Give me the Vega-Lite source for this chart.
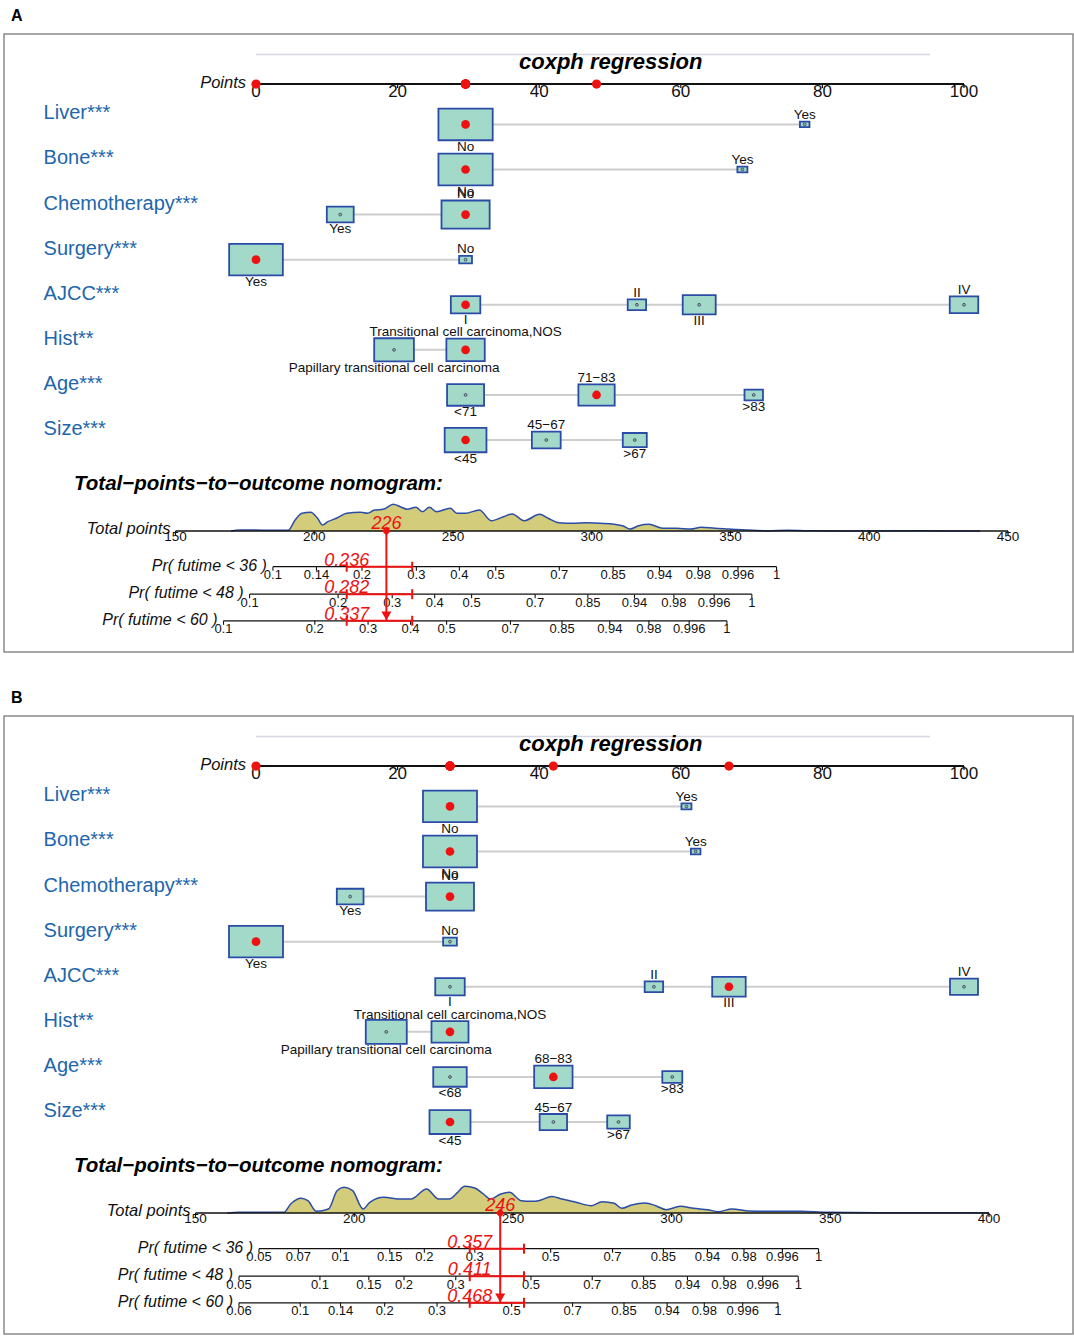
{
"$schema":"https://vega.github.io/schema/vega-lite/v6.json",
"background":"white",
"padding":{"left":3,"top":7,"right":0,"bottom":0},
"spacing":36,
"config":{
 "font":"Liberation Sans",
 "view":{"stroke":"#8a8a8a","strokeWidth":1.5},
 "text":{"font":"Liberation Sans","color":"#111111"},
 "title":{"anchor":"start","frame":"group","fontSize":16,"fontWeight":"bold","color":"#000000","offset":12,"dx":7,"dy":2}
},
"datasets":{
 "vars":[{"name":"Liver***","row":1},{"name":"Bone***","row":2},{"name":"Chemotherapy***","row":3},{"name":"Surgery***","row":4},{"name":"AJCC***","row":5},{"name":"Hist**","row":6},{"name":"Age***","row":7},{"name":"Size***","row":8}],
 "ptTicks":[{"p":0},{"p":20},{"p":40},{"p":60},{"p":80},{"p":100}],
 "lvA":[
  {"var":"Liver","row":1,"level":"No","pts":29.6,"prop":0.965,"sel":true},
  {"var":"Liver","row":1,"level":"Yes","pts":77.5,"prop":0.03,"sel":false},
  {"var":"Bone","row":2,"level":"No","pts":29.6,"prop":0.965,"sel":true},
  {"var":"Bone","row":2,"level":"Yes","pts":68.7,"prop":0.033,"sel":false},
  {"var":"Chemotherapy","row":3,"level":"No","pts":29.6,"prop":0.76,"sel":true},
  {"var":"Chemotherapy","row":3,"level":"Yes","pts":11.9,"prop":0.237,"sel":false},
  {"var":"Surgery","row":4,"level":"No","pts":29.6,"prop":0.054,"sel":false},
  {"var":"Surgery","row":4,"level":"Yes","pts":0,"prop":0.945,"sel":true},
  {"var":"AJCC","row":5,"level":"I","pts":29.6,"prop":0.285,"sel":true},
  {"var":"AJCC","row":5,"level":"II","pts":53.8,"prop":0.111,"sel":false},
  {"var":"AJCC","row":5,"level":"III","pts":62.6,"prop":0.357,"sel":false},
  {"var":"AJCC","row":5,"level":"IV","pts":100,"prop":0.266,"sel":false},
  {"var":"Hist","row":6,"level":"Papillary transitional cell carcinoma","pts":19.5,"prop":0.517,"sel":false},
  {"var":"Hist","row":6,"level":"Transitional cell carcinoma,NOS","pts":29.6,"prop":0.483,"sel":true},
  {"var":"Age","row":7,"level":"<71","pts":29.6,"prop":0.449,"sel":false},
  {"var":"Age","row":7,"level":"71−83","pts":48.1,"prop":0.432,"sel":true},
  {"var":"Age","row":7,"level":">83","pts":70.3,"prop":0.112,"sel":false},
  {"var":"Size","row":8,"level":"<45","pts":29.6,"prop":0.573,"sel":true},
  {"var":"Size","row":8,"level":"45−67","pts":41.0,"prop":0.272,"sel":false},
  {"var":"Size","row":8,"level":">67","pts":53.5,"prop":0.189,"sel":false}
 ],
 "lvB":[
  {"var":"Liver","row":1,"level":"No","pts":27.4,"prop":0.956,"sel":true},
  {"var":"Liver","row":1,"level":"Yes","pts":60.8,"prop":0.033,"sel":false},
  {"var":"Bone","row":2,"level":"No","pts":27.4,"prop":0.956,"sel":true},
  {"var":"Bone","row":2,"level":"Yes","pts":62.1,"prop":0.03,"sel":false},
  {"var":"Chemotherapy","row":3,"level":"No","pts":27.4,"prop":0.755,"sel":true},
  {"var":"Chemotherapy","row":3,"level":"Yes","pts":13.3,"prop":0.234,"sel":false},
  {"var":"Surgery","row":4,"level":"No","pts":27.4,"prop":0.062,"sel":false},
  {"var":"Surgery","row":4,"level":"Yes","pts":0,"prop":0.956,"sel":true},
  {"var":"AJCC","row":5,"level":"I","pts":27.4,"prop":0.285,"sel":false},
  {"var":"AJCC","row":5,"level":"II","pts":56.2,"prop":0.112,"sel":false},
  {"var":"AJCC","row":5,"level":"III","pts":66.8,"prop":0.368,"sel":true},
  {"var":"AJCC","row":5,"level":"IV","pts":100,"prop":0.257,"sel":false},
  {"var":"Hist","row":6,"level":"Papillary transitional cell carcinoma","pts":18.4,"prop":0.551,"sel":false},
  {"var":"Hist","row":6,"level":"Transitional cell carcinoma,NOS","pts":27.4,"prop":0.449,"sel":true},
  {"var":"Age","row":7,"level":"<68","pts":27.4,"prop":0.368,"sel":false},
  {"var":"Age","row":7,"level":"68−83","pts":42.0,"prop":0.483,"sel":true},
  {"var":"Age","row":7,"level":">83","pts":58.8,"prop":0.131,"sel":false},
  {"var":"Size","row":8,"level":"<45","pts":27.4,"prop":0.551,"sel":true},
  {"var":"Size","row":8,"level":"45−67","pts":42.0,"prop":0.246,"sel":false},
  {"var":"Size","row":8,"level":">67","pts":51.2,"prop":0.167,"sel":false}
 ],
 "densA":[
  {"tp":170,"d":0},{"tp":173.3,"d":1},{"tp":190.6,"d":0.7},{"tp":193.1,"d":11},{"tp":195.6,"d":17.7},{"tp":198.7,"d":18.7},{"tp":201.2,"d":12.7},{"tp":203.0,"d":6},{"tp":204.9,"d":9.3},{"tp":208.0,"d":12.7},{"tp":211.7,"d":17.7},{"tp":216.7,"d":18.7},{"tp":219.2,"d":17.7},{"tp":221.7,"d":21},{"tp":224.8,"d":21.7},{"tp":228.5,"d":26.7},{"tp":231.0,"d":24.3},{"tp":233.5,"d":21.7},{"tp":236.6,"d":23.7},{"tp":239.0,"d":19.3},{"tp":241.5,"d":23.7},{"tp":244.0,"d":19.3},{"tp":249.0,"d":22.7},{"tp":251.4,"d":17.7},{"tp":254.5,"d":17.7},{"tp":259.5,"d":21},{"tp":263.8,"d":10.3},{"tp":268.2,"d":14.3},{"tp":271.3,"d":17},{"tp":275.7,"d":10.3},{"tp":281.2,"d":16.7},{"tp":284.3,"d":12.7},{"tp":288.1,"d":8.3},{"tp":293.1,"d":7.7},{"tp":298.1,"d":8.3},{"tp":303.1,"d":7.7},{"tp":308.1,"d":6.7},{"tp":311.3,"d":5},{"tp":313.8,"d":2},{"tp":316.9,"d":5.3},{"tp":320.6,"d":6.7},{"tp":325.6,"d":2.7},{"tp":330.6,"d":2.7},{"tp":335.6,"d":2},{"tp":339.4,"d":3.7},{"tp":344.4,"d":2.7},{"tp":349.4,"d":2},{"tp":355.6,"d":1},{"tp":363.2,"d":0.3},{"tp":370.6,"d":0.7},{"tp":378.1,"d":0.3},{"tp":390.6,"d":0.1},{"tp":415.7,"d":0.3},{"tp":428.2,"d":0.1},{"tp":440,"d":0}
 ],
 "densB":[
  {"tp":160,"d":0},{"tp":163.7,"d":0.7},{"tp":177.8,"d":0.7},{"tp":180.0,"d":9},{"tp":183.2,"d":14.7},{"tp":185.4,"d":12.3},{"tp":188.1,"d":1.7},{"tp":191.9,"d":4},{"tp":194.6,"d":22.3},{"tp":196.8,"d":25.7},{"tp":199.5,"d":22.3},{"tp":202.8,"d":4},{"tp":204.9,"d":10.7},{"tp":209.3,"d":15.7},{"tp":214.7,"d":14},{"tp":217.9,"d":14},{"tp":222.8,"d":24},{"tp":226.6,"d":14},{"tp":229.9,"d":14},{"tp":232.6,"d":20.7},{"tp":234.8,"d":26.7},{"tp":238.0,"d":25},{"tp":240.7,"d":19},{"tp":242.9,"d":14},{"tp":246.2,"d":19},{"tp":248.9,"d":20.7},{"tp":252.6,"d":12.3},{"tp":255.7,"d":11.7},{"tp":258.1,"d":12.3},{"tp":262.3,"d":16.5},{"tp":265.5,"d":14},{"tp":269.9,"d":10.7},{"tp":274.8,"d":7.3},{"tp":278.1,"d":11.3},{"tp":281.9,"d":9.7},{"tp":284.3,"d":4.7},{"tp":287.4,"d":8},{"tp":291.7,"d":10},{"tp":295.0,"d":7.3},{"tp":298.3,"d":3.3},{"tp":302.7,"d":6.7},{"tp":307.0,"d":4.7},{"tp":311.4,"d":3.3},{"tp":314.7,"d":1.3},{"tp":319.0,"d":4},{"tp":324.5,"d":2},{"tp":332.2,"d":1.7},{"tp":340.9,"d":1.7},{"tp":348.6,"d":0.7},{"tp":365.0,"d":0.3},{"tp":386.8,"d":0.3},{"tp":400,"d":0}
 ],
 "tpTicksA":[{"t":150},{"t":200},{"t":250},{"t":300},{"t":350},{"t":400},{"t":450}],
 "tpTicksB":[{"t":150},{"t":200},{"t":250},{"t":300},{"t":350},{"t":400}],
 "probA":[
  {"ax":"36","row":10.809,"p":"0.1","tp":185.1},{"ax":"36","row":10.809,"p":"0.14","tp":200.8},{"ax":"36","row":10.809,"p":"0.2","tp":217.2},{"ax":"36","row":10.809,"p":"0.3","tp":236.8},{"ax":"36","row":10.809,"p":"0.4","tp":252.3},{"ax":"36","row":10.809,"p":"0.5","tp":265.4},{"ax":"36","row":10.809,"p":"0.7","tp":288.3},{"ax":"36","row":10.809,"p":"0.85","tp":307.7},{"ax":"36","row":10.809,"p":"0.94","tp":324.4},{"ax":"36","row":10.809,"p":"0.98","tp":338.4},{"ax":"36","row":10.809,"p":"0.996","tp":352.7},{"ax":"36","row":10.809,"p":"1","tp":366.6},
  {"ax":"48","row":11.419,"p":"0.1","tp":176.7},{"ax":"48","row":11.419,"p":"0.2","tp":208.6},{"ax":"48","row":11.419,"p":"0.3","tp":228.1},{"ax":"48","row":11.419,"p":"0.4","tp":243.4},{"ax":"48","row":11.419,"p":"0.5","tp":256.7},{"ax":"48","row":11.419,"p":"0.7","tp":279.6},{"ax":"48","row":11.419,"p":"0.85","tp":298.6},{"ax":"48","row":11.419,"p":"0.94","tp":315.4},{"ax":"48","row":11.419,"p":"0.98","tp":329.6},{"ax":"48","row":11.419,"p":"0.996","tp":344.1},{"ax":"48","row":11.419,"p":"1","tp":357.7},
  {"ax":"60","row":12.009,"p":"0.1","tp":167.3},{"ax":"60","row":12.009,"p":"0.2","tp":200.2},{"ax":"60","row":12.009,"p":"0.3","tp":219.4},{"ax":"60","row":12.009,"p":"0.4","tp":234.7},{"ax":"60","row":12.009,"p":"0.5","tp":247.7},{"ax":"60","row":12.009,"p":"0.7","tp":270.7},{"ax":"60","row":12.009,"p":"0.85","tp":289.3},{"ax":"60","row":12.009,"p":"0.94","tp":306.5},{"ax":"60","row":12.009,"p":"0.98","tp":320.6},{"ax":"60","row":12.009,"p":"0.996","tp":335.1},{"ax":"60","row":12.009,"p":"1","tp":348.7}
 ],
 "probB":[
  {"ax":"36","row":10.809,"p":"0.05","tp":170.0},{"ax":"36","row":10.809,"p":"0.07","tp":182.4},{"ax":"36","row":10.809,"p":"0.1","tp":195.7},{"ax":"36","row":10.809,"p":"0.15","tp":211.2},{"ax":"36","row":10.809,"p":"0.2","tp":222.1},{"ax":"36","row":10.809,"p":"0.3","tp":238.0},{"ax":"36","row":10.809,"p":"0.5","tp":261.9},{"ax":"36","row":10.809,"p":"0.7","tp":281.4},{"ax":"36","row":10.809,"p":"0.85","tp":297.4},{"ax":"36","row":10.809,"p":"0.94","tp":311.3},{"ax":"36","row":10.809,"p":"0.98","tp":322.8},{"ax":"36","row":10.809,"p":"0.996","tp":334.9},{"ax":"36","row":10.809,"p":"1","tp":346.3},
  {"ax":"48","row":11.419,"p":"0.05","tp":163.7},{"ax":"48","row":11.419,"p":"0.1","tp":189.2},{"ax":"48","row":11.419,"p":"0.15","tp":204.6},{"ax":"48","row":11.419,"p":"0.2","tp":215.7},{"ax":"48","row":11.419,"p":"0.3","tp":232.0},{"ax":"48","row":11.419,"p":"0.5","tp":255.7},{"ax":"48","row":11.419,"p":"0.7","tp":275.0},{"ax":"48","row":11.419,"p":"0.85","tp":291.2},{"ax":"48","row":11.419,"p":"0.94","tp":305.0},{"ax":"48","row":11.419,"p":"0.98","tp":316.5},{"ax":"48","row":11.419,"p":"0.996","tp":328.7},{"ax":"48","row":11.419,"p":"1","tp":339.9},
  {"ax":"60","row":12.009,"p":"0.06","tp":163.7},{"ax":"60","row":12.009,"p":"0.1","tp":183.0},{"ax":"60","row":12.009,"p":"0.14","tp":195.7},{"ax":"60","row":12.009,"p":"0.2","tp":209.6},{"ax":"60","row":12.009,"p":"0.3","tp":226.1},{"ax":"60","row":12.009,"p":"0.5","tp":249.6},{"ax":"60","row":12.009,"p":"0.7","tp":268.8},{"ax":"60","row":12.009,"p":"0.85","tp":285.0},{"ax":"60","row":12.009,"p":"0.94","tp":298.6},{"ax":"60","row":12.009,"p":"0.98","tp":310.3},{"ax":"60","row":12.009,"p":"0.996","tp":322.4},{"ax":"60","row":12.009,"p":"1","tp":333.5}
 ],
 "ciA":[{"row":10.809,"prob":"0.236","lo":211.7,"hi":235.3},{"row":11.419,"prob":"0.282","lo":211.7,"hi":235.3},{"row":12.009,"prob":"0.337","lo":211.7,"hi":235.3}],
 "ciB":[{"row":10.809,"prob":"0.357","lo":236.4,"hi":253.5},{"row":11.419,"prob":"0.411","lo":236.4,"hi":253.5},{"row":12.009,"prob":"0.468","lo":236.4,"hi":253.5}],
 "totA":[{"total":226}],
 "totB":[{"total":246}]
},
"vconcat":[
{
 "title":{"text":"A"},
 "width":1069,"height":618,
 "resolve":{"scale":{"x":"independent","y":"independent","size":"independent"}},
 "layer":[
  {"data":{"values":[{}]},"mark":{"type":"rule","color":"#D6D6E2","strokeWidth":1.5},"encoding":{"x":{"datum":0,"type":"quantitative","scale":{"domain":[0,100],"range":[252,960],"nice":false,"zero":false},"axis":null},"x2":{"datum":95.2},"y":{"datum":-0.55,"type":"quantitative","scale":{"domain":[-1.005,12.701],"range":[0,618],"nice":false,"zero":false},"axis":null}}},
  {"data":{"values":[{}]},"mark":{"type":"text","text":"coxph regression","fontSize":22,"fontWeight":"bold","fontStyle":"italic","align":"center","baseline":"alphabetic","color":"#000000"},"encoding":{"x":{"datum":50.1,"type":"quantitative","scale":{"domain":[0,100],"range":[252,960],"nice":false,"zero":false},"axis":null},"y":{"datum":-0.229,"type":"quantitative","scale":{"domain":[-1.005,12.701],"range":[0,618],"nice":false,"zero":false},"axis":null}}},
  {"data":{"name":"lvA"},"mark":{"type":"line","color":"#CDCDCD","strokeWidth":2},"encoding":{"x":{"field":"pts","type":"quantitative","scale":{"domain":[0,100],"range":[252,960],"nice":false,"zero":false},"axis":null},"y":{"field":"row","type":"quantitative","scale":{"domain":[-1.005,12.701],"range":[0,618],"nice":false,"zero":false},"axis":null},"detail":{"field":"var"},"order":{"field":"pts"}}},
  {"data":{"name":"lvA"},"mark":{"type":"point","shape":"M-1,-0.585H1V0.585H-1Z","filled":true,"fill":"#A2D9C9","stroke":"#2B4CA6","strokeWidth":1.8,"opacity":1,"fillOpacity":1},"encoding":{"x":{"field":"pts","type":"quantitative","scale":{"domain":[0,100],"range":[252,960],"nice":false,"zero":false},"axis":null},"y":{"field":"row","type":"quantitative","scale":{"domain":[-1.005,12.701],"range":[0,618],"nice":false,"zero":false},"axis":null},"size":{"field":"prop","type":"quantitative","scale":{"domain":[0,1],"range":[0,3050],"zero":true},"legend":null}}},
  {"data":{"name":"lvA"},"transform":[{"filter":"!datum.sel"}],"mark":{"type":"point","shape":"circle","filled":true,"fill":"#8FB8AC","stroke":"#3A3A5A","strokeWidth":0.8,"size":8,"opacity":1},"encoding":{"x":{"field":"pts","type":"quantitative","scale":{"domain":[0,100],"range":[252,960],"nice":false,"zero":false},"axis":null},"y":{"field":"row","type":"quantitative","scale":{"domain":[-1.005,12.701],"range":[0,618],"nice":false,"zero":false},"axis":null}}},
  {"data":{"name":"lvA"},"transform":[{"filter":"datum.sel"}],"mark":{"type":"point","shape":"circle","filled":true,"color":"#EE1111","size":75,"opacity":1},"encoding":{"x":{"field":"pts","type":"quantitative","scale":{"domain":[0,100],"range":[252,960],"nice":false,"zero":false},"axis":null},"y":{"field":"row","type":"quantitative","scale":{"domain":[-1.005,12.701],"range":[0,618],"nice":false,"zero":false},"axis":null}}},
  {"data":{"name":"lvA"},"transform":[{"window":[{"op":"row_number","as":"rk"}],"sort":[{"field":"pts","order":"ascending"}],"groupby":["var"]},{"calculate":"datum.row + (datum.rk % 2 == 1 ? 1 : -1) * (0.2925 * sqrt(3050 * datum.prop) + 6.5) / 45.09","as":"ly"}],"mark":{"type":"text","fontSize":13.5,"align":"center","baseline":"middle","color":"#111111"},"encoding":{"x":{"field":"pts","type":"quantitative","scale":{"domain":[0,100],"range":[252,960],"nice":false,"zero":false},"axis":null},"y":{"field":"ly","type":"quantitative","scale":{"domain":[-1.005,12.701],"range":[0,618],"nice":false,"zero":false},"axis":null},"text":{"field":"level"}}},
  {"data":{"name":"vars"},"mark":{"type":"text","fontSize":20,"align":"left","baseline":"alphabetic","dy":-5,"color":"#2166AC"},"encoding":{"x":{"datum":-30,"type":"quantitative","scale":{"domain":[0,100],"range":[252,960],"nice":false,"zero":false},"axis":null},"y":{"field":"row","type":"quantitative","scale":{"domain":[-1.005,12.701],"range":[0,618],"nice":false,"zero":false},"axis":null},"text":{"field":"name"}}},
  {"data":{"values":[{}]},"mark":{"type":"rule","color":"#111111","strokeWidth":2},"encoding":{"x":{"datum":0,"type":"quantitative","scale":{"domain":[0,100],"range":[252,960],"nice":false,"zero":false},"axis":null},"x2":{"datum":100},"y":{"datum":0.106,"type":"quantitative","scale":{"domain":[-1.005,12.701],"range":[0,618],"nice":false,"zero":false},"axis":null}}},
  {"data":{"name":"ptTicks"},"mark":{"type":"point","shape":"M0,0V1","filled":false,"color":"#111111","strokeWidth":1.2,"size":64,"opacity":1},"encoding":{"x":{"field":"p","type":"quantitative","scale":{"domain":[0,100],"range":[252,960],"nice":false,"zero":false},"axis":null},"y":{"datum":0.106,"type":"quantitative","scale":{"domain":[-1.005,12.701],"range":[0,618],"nice":false,"zero":false},"axis":null}}},
  {"data":{"name":"ptTicks"},"mark":{"type":"text","fontSize":17,"align":"center","baseline":"middle","dy":8,"color":"#111111"},"encoding":{"x":{"field":"p","type":"quantitative","scale":{"domain":[0,100],"range":[252,960],"nice":false,"zero":false},"axis":null},"y":{"datum":0.106,"type":"quantitative","scale":{"domain":[-1.005,12.701],"range":[0,618],"nice":false,"zero":false},"axis":null},"text":{"field":"p"}}},
  {"data":{"values":[{}]},"mark":{"type":"text","text":"Points","fontSize":16.5,"fontStyle":"italic","align":"right","baseline":"middle","dx":-10,"dy":-1,"color":"#111111"},"encoding":{"x":{"datum":0,"type":"quantitative","scale":{"domain":[0,100],"range":[252,960],"nice":false,"zero":false},"axis":null},"y":{"datum":0.106,"type":"quantitative","scale":{"domain":[-1.005,12.701],"range":[0,618],"nice":false,"zero":false},"axis":null}}},
  {"data":{"name":"lvA"},"transform":[{"filter":"datum.sel"}],"mark":{"type":"point","shape":"circle","filled":true,"color":"#EE1111","size":85,"opacity":1},"encoding":{"x":{"field":"pts","type":"quantitative","scale":{"domain":[0,100],"range":[252,960],"nice":false,"zero":false},"axis":null},"y":{"datum":0.106,"type":"quantitative","scale":{"domain":[-1.005,12.701],"range":[0,618],"nice":false,"zero":false},"axis":null}}},
  {"data":{"values":[{}]},"mark":{"type":"text","text":"Total−points−to−outcome nomogram:","fontSize":20.5,"fontWeight":"bold","fontStyle":"italic","align":"left","baseline":"alphabetic","color":"#000000"},"encoding":{"x":{"datum":-25.7,"type":"quantitative","scale":{"domain":[0,100],"range":[252,960],"nice":false,"zero":false},"axis":null},"y":{"datum":9.108,"type":"quantitative","scale":{"domain":[-1.005,12.701],"range":[0,618],"nice":false,"zero":false},"axis":null}}},
  {"data":{"name":"densA"},"mark":{"type":"area","interpolate":"monotone","color":"#D3CD7B","opacity":1,"line":{"color":"#2B4CA6","strokeWidth":1.5}},"encoding":{"x":{"field":"tp","type":"quantitative","scale":{"domain":[150,450],"range":[171.5,1004],"nice":false,"zero":false},"axis":null},"y":{"field":"d","type":"quantitative","scale":{"domain":[0,30],"range":[497,467],"nice":false,"zero":false},"axis":null}}},
  {"data":{"values":[{}]},"mark":{"type":"rule","color":"#111111","strokeWidth":1.5},"encoding":{"x":{"datum":150,"type":"quantitative","scale":{"domain":[150,450],"range":[171.5,1004],"nice":false,"zero":false},"axis":null},"x2":{"datum":450},"y":{"datum":10.017,"type":"quantitative","scale":{"domain":[-1.005,12.701],"range":[0,618],"nice":false,"zero":false},"axis":null}}},
  {"data":{"name":"tpTicksA"},"mark":{"type":"point","shape":"M0,0V1","filled":false,"color":"#111111","strokeWidth":1.2,"size":64,"opacity":1},"encoding":{"x":{"field":"t","type":"quantitative","scale":{"domain":[150,450],"range":[171.5,1004],"nice":false,"zero":false},"axis":null},"y":{"datum":10.017,"type":"quantitative","scale":{"domain":[-1.005,12.701],"range":[0,618],"nice":false,"zero":false},"axis":null}}},
  {"data":{"name":"tpTicksA"},"mark":{"type":"text","fontSize":13.5,"align":"center","baseline":"middle","dy":6.5,"color":"#111111"},"encoding":{"x":{"field":"t","type":"quantitative","scale":{"domain":[150,450],"range":[171.5,1004],"nice":false,"zero":false},"axis":null},"y":{"datum":10.017,"type":"quantitative","scale":{"domain":[-1.005,12.701],"range":[0,618],"nice":false,"zero":false},"axis":null},"text":{"field":"t"}}},
  {"data":{"values":[{}]},"mark":{"type":"text","text":"Total points","fontSize":16.5,"fontStyle":"italic","align":"right","baseline":"middle","dx":-5,"dy":-2,"color":"#111111"},"encoding":{"x":{"datum":150,"type":"quantitative","scale":{"domain":[150,450],"range":[171.5,1004],"nice":false,"zero":false},"axis":null},"y":{"datum":10.017,"type":"quantitative","scale":{"domain":[-1.005,12.701],"range":[0,618],"nice":false,"zero":false},"axis":null}}},
  {"data":{"name":"probA"},"mark":{"type":"rule","color":"#111111","strokeWidth":1.2},"encoding":{"x":{"aggregate":"min","field":"tp","type":"quantitative","scale":{"domain":[150,450],"range":[171.5,1004],"nice":false,"zero":false},"axis":null},"x2":{"aggregate":"max","field":"tp"},"y":{"field":"row","type":"quantitative","scale":{"domain":[-1.005,12.701],"range":[0,618],"nice":false,"zero":false},"axis":null}}},
  {"data":{"name":"probA"},"mark":{"type":"point","shape":"M0,0V1","filled":false,"color":"#111111","strokeWidth":1.1,"size":64,"opacity":1},"encoding":{"x":{"field":"tp","type":"quantitative","scale":{"domain":[150,450],"range":[171.5,1004],"nice":false,"zero":false},"axis":null},"y":{"field":"row","type":"quantitative","scale":{"domain":[-1.005,12.701],"range":[0,618],"nice":false,"zero":false},"axis":null}}},
  {"data":{"name":"probA"},"mark":{"type":"text","fontSize":13,"align":"center","baseline":"middle","dy":8.5,"color":"#111111"},"encoding":{"x":{"field":"tp","type":"quantitative","scale":{"domain":[150,450],"range":[171.5,1004],"nice":false,"zero":false},"axis":null},"y":{"field":"row","type":"quantitative","scale":{"domain":[-1.005,12.701],"range":[0,618],"nice":false,"zero":false},"axis":null},"text":{"field":"p"}}},
  {"data":{"name":"probA"},"transform":[{"aggregate":[{"op":"min","field":"tp","as":"tp0"}],"groupby":["ax","row"]},{"calculate":"'Pr( futime < ' + datum.ax + ' )'","as":"lab"}],"mark":{"type":"text","fontSize":16,"fontStyle":"italic","align":"right","baseline":"middle","dx":-6,"dy":-1,"color":"#111111"},"encoding":{"x":{"field":"tp0","type":"quantitative","scale":{"domain":[150,450],"range":[171.5,1004],"nice":false,"zero":false},"axis":null},"y":{"field":"row","type":"quantitative","scale":{"domain":[-1.005,12.701],"range":[0,618],"nice":false,"zero":false},"axis":null},"text":{"field":"lab"}}},
  {"data":{"name":"ciA"},"mark":{"type":"rule","color":"#EE1111","strokeWidth":2},"encoding":{"x":{"field":"lo","type":"quantitative","scale":{"domain":[150,450],"range":[171.5,1004],"nice":false,"zero":false},"axis":null},"x2":{"field":"hi"},"y":{"field":"row","type":"quantitative","scale":{"domain":[-1.005,12.701],"range":[0,618],"nice":false,"zero":false},"axis":null}}},
  {"data":{"name":"ciA"},"transform":[{"fold":["lo","hi"],"as":["k","v"]}],"mark":{"type":"point","shape":"M0,-1V1","filled":false,"color":"#EE1111","strokeWidth":2,"size":100,"opacity":1},"encoding":{"x":{"field":"v","type":"quantitative","scale":{"domain":[150,450],"range":[171.5,1004],"nice":false,"zero":false},"axis":null},"y":{"field":"row","type":"quantitative","scale":{"domain":[-1.005,12.701],"range":[0,618],"nice":false,"zero":false},"axis":null}}},
  {"data":{"name":"totA"},"mark":{"type":"rule","color":"#EE1111","strokeWidth":2},"encoding":{"x":{"field":"total","type":"quantitative","scale":{"domain":[150,450],"range":[171.5,1004],"nice":false,"zero":false},"axis":null},"y":{"datum":10.017,"type":"quantitative","scale":{"domain":[-1.005,12.701],"range":[0,618],"nice":false,"zero":false},"axis":null},"y2":{"datum":12.009}}},
  {"data":{"name":"totA"},"mark":{"type":"point","shape":"diamond","filled":true,"color":"#EE1111","size":80,"opacity":1},"encoding":{"x":{"field":"total","type":"quantitative","scale":{"domain":[150,450],"range":[171.5,1004],"nice":false,"zero":false},"axis":null},"y":{"datum":10.017,"type":"quantitative","scale":{"domain":[-1.005,12.701],"range":[0,618],"nice":false,"zero":false},"axis":null}}},
  {"data":{"name":"totA"},"mark":{"type":"point","shape":"triangle-down","filled":true,"color":"#EE1111","size":100,"opacity":1,"yOffset":-5},"encoding":{"x":{"field":"total","type":"quantitative","scale":{"domain":[150,450],"range":[171.5,1004],"nice":false,"zero":false},"axis":null},"y":{"datum":12.009,"type":"quantitative","scale":{"domain":[-1.005,12.701],"range":[0,618],"nice":false,"zero":false},"axis":null}}},
  {"data":{"name":"totA"},"mark":{"type":"text","fontSize":18,"fontStyle":"italic","color":"#EE1111","align":"center","baseline":"alphabetic","dy":-2},"encoding":{"x":{"field":"total","type":"quantitative","scale":{"domain":[150,450],"range":[171.5,1004],"nice":false,"zero":false},"axis":null},"y":{"datum":10.017,"type":"quantitative","scale":{"domain":[-1.005,12.701],"range":[0,618],"nice":false,"zero":false},"axis":null},"text":{"field":"total"}}},
  {"data":{"name":"ciA"},"mark":{"type":"text","fontSize":18,"fontStyle":"italic","color":"#EE1111","align":"center","baseline":"alphabetic","dy":-1},"encoding":{"x":{"field":"lo","type":"quantitative","scale":{"domain":[150,450],"range":[171.5,1004],"nice":false,"zero":false},"axis":null},"y":{"field":"row","type":"quantitative","scale":{"domain":[-1.005,12.701],"range":[0,618],"nice":false,"zero":false},"axis":null},"text":{"field":"prob"}}}
 ]
},
{
 "title":{"text":"B"},
 "width":1069,"height":618,
 "resolve":{"scale":{"x":"independent","y":"independent","size":"independent"}},
 "layer":[
  {"data":{"values":[{}]},"mark":{"type":"rule","color":"#D6D6E2","strokeWidth":1.5},"encoding":{"x":{"datum":0,"type":"quantitative","scale":{"domain":[0,100],"range":[252,960],"nice":false,"zero":false},"axis":null},"x2":{"datum":95.2},"y":{"datum":-0.55,"type":"quantitative","scale":{"domain":[-1.005,12.701],"range":[0,618],"nice":false,"zero":false},"axis":null}}},
  {"data":{"values":[{}]},"mark":{"type":"text","text":"coxph regression","fontSize":22,"fontWeight":"bold","fontStyle":"italic","align":"center","baseline":"alphabetic","color":"#000000"},"encoding":{"x":{"datum":50.1,"type":"quantitative","scale":{"domain":[0,100],"range":[252,960],"nice":false,"zero":false},"axis":null},"y":{"datum":-0.229,"type":"quantitative","scale":{"domain":[-1.005,12.701],"range":[0,618],"nice":false,"zero":false},"axis":null}}},
  {"data":{"name":"lvB"},"mark":{"type":"line","color":"#CDCDCD","strokeWidth":2},"encoding":{"x":{"field":"pts","type":"quantitative","scale":{"domain":[0,100],"range":[252,960],"nice":false,"zero":false},"axis":null},"y":{"field":"row","type":"quantitative","scale":{"domain":[-1.005,12.701],"range":[0,618],"nice":false,"zero":false},"axis":null},"detail":{"field":"var"},"order":{"field":"pts"}}},
  {"data":{"name":"lvB"},"mark":{"type":"point","shape":"M-1,-0.585H1V0.585H-1Z","filled":true,"fill":"#A2D9C9","stroke":"#2B4CA6","strokeWidth":1.8,"opacity":1,"fillOpacity":1},"encoding":{"x":{"field":"pts","type":"quantitative","scale":{"domain":[0,100],"range":[252,960],"nice":false,"zero":false},"axis":null},"y":{"field":"row","type":"quantitative","scale":{"domain":[-1.005,12.701],"range":[0,618],"nice":false,"zero":false},"axis":null},"size":{"field":"prop","type":"quantitative","scale":{"domain":[0,1],"range":[0,3050],"zero":true},"legend":null}}},
  {"data":{"name":"lvB"},"transform":[{"filter":"!datum.sel"}],"mark":{"type":"point","shape":"circle","filled":true,"fill":"#8FB8AC","stroke":"#3A3A5A","strokeWidth":0.8,"size":8,"opacity":1},"encoding":{"x":{"field":"pts","type":"quantitative","scale":{"domain":[0,100],"range":[252,960],"nice":false,"zero":false},"axis":null},"y":{"field":"row","type":"quantitative","scale":{"domain":[-1.005,12.701],"range":[0,618],"nice":false,"zero":false},"axis":null}}},
  {"data":{"name":"lvB"},"transform":[{"filter":"datum.sel"}],"mark":{"type":"point","shape":"circle","filled":true,"color":"#EE1111","size":75,"opacity":1},"encoding":{"x":{"field":"pts","type":"quantitative","scale":{"domain":[0,100],"range":[252,960],"nice":false,"zero":false},"axis":null},"y":{"field":"row","type":"quantitative","scale":{"domain":[-1.005,12.701],"range":[0,618],"nice":false,"zero":false},"axis":null}}},
  {"data":{"name":"lvB"},"transform":[{"window":[{"op":"row_number","as":"rk"}],"sort":[{"field":"pts","order":"ascending"}],"groupby":["var"]},{"calculate":"datum.row + (datum.rk % 2 == 1 ? 1 : -1) * (0.2925 * sqrt(3050 * datum.prop) + 6.5) / 45.09","as":"ly"}],"mark":{"type":"text","fontSize":13.5,"align":"center","baseline":"middle","color":"#111111"},"encoding":{"x":{"field":"pts","type":"quantitative","scale":{"domain":[0,100],"range":[252,960],"nice":false,"zero":false},"axis":null},"y":{"field":"ly","type":"quantitative","scale":{"domain":[-1.005,12.701],"range":[0,618],"nice":false,"zero":false},"axis":null},"text":{"field":"level"}}},
  {"data":{"name":"vars"},"mark":{"type":"text","fontSize":20,"align":"left","baseline":"alphabetic","dy":-5,"color":"#2166AC"},"encoding":{"x":{"datum":-30,"type":"quantitative","scale":{"domain":[0,100],"range":[252,960],"nice":false,"zero":false},"axis":null},"y":{"field":"row","type":"quantitative","scale":{"domain":[-1.005,12.701],"range":[0,618],"nice":false,"zero":false},"axis":null},"text":{"field":"name"}}},
  {"data":{"values":[{}]},"mark":{"type":"rule","color":"#111111","strokeWidth":2},"encoding":{"x":{"datum":0,"type":"quantitative","scale":{"domain":[0,100],"range":[252,960],"nice":false,"zero":false},"axis":null},"x2":{"datum":100},"y":{"datum":0.106,"type":"quantitative","scale":{"domain":[-1.005,12.701],"range":[0,618],"nice":false,"zero":false},"axis":null}}},
  {"data":{"name":"ptTicks"},"mark":{"type":"point","shape":"M0,0V1","filled":false,"color":"#111111","strokeWidth":1.2,"size":64,"opacity":1},"encoding":{"x":{"field":"p","type":"quantitative","scale":{"domain":[0,100],"range":[252,960],"nice":false,"zero":false},"axis":null},"y":{"datum":0.106,"type":"quantitative","scale":{"domain":[-1.005,12.701],"range":[0,618],"nice":false,"zero":false},"axis":null}}},
  {"data":{"name":"ptTicks"},"mark":{"type":"text","fontSize":17,"align":"center","baseline":"middle","dy":8,"color":"#111111"},"encoding":{"x":{"field":"p","type":"quantitative","scale":{"domain":[0,100],"range":[252,960],"nice":false,"zero":false},"axis":null},"y":{"datum":0.106,"type":"quantitative","scale":{"domain":[-1.005,12.701],"range":[0,618],"nice":false,"zero":false},"axis":null},"text":{"field":"p"}}},
  {"data":{"values":[{}]},"mark":{"type":"text","text":"Points","fontSize":16.5,"fontStyle":"italic","align":"right","baseline":"middle","dx":-10,"dy":-1,"color":"#111111"},"encoding":{"x":{"datum":0,"type":"quantitative","scale":{"domain":[0,100],"range":[252,960],"nice":false,"zero":false},"axis":null},"y":{"datum":0.106,"type":"quantitative","scale":{"domain":[-1.005,12.701],"range":[0,618],"nice":false,"zero":false},"axis":null}}},
  {"data":{"name":"lvB"},"transform":[{"filter":"datum.sel"}],"mark":{"type":"point","shape":"circle","filled":true,"color":"#EE1111","size":85,"opacity":1},"encoding":{"x":{"field":"pts","type":"quantitative","scale":{"domain":[0,100],"range":[252,960],"nice":false,"zero":false},"axis":null},"y":{"datum":0.106,"type":"quantitative","scale":{"domain":[-1.005,12.701],"range":[0,618],"nice":false,"zero":false},"axis":null}}},
  {"data":{"values":[{}]},"mark":{"type":"text","text":"Total−points−to−outcome nomogram:","fontSize":20.5,"fontWeight":"bold","fontStyle":"italic","align":"left","baseline":"alphabetic","color":"#000000"},"encoding":{"x":{"datum":-25.7,"type":"quantitative","scale":{"domain":[0,100],"range":[252,960],"nice":false,"zero":false},"axis":null},"y":{"datum":9.108,"type":"quantitative","scale":{"domain":[-1.005,12.701],"range":[0,618],"nice":false,"zero":false},"axis":null}}},
  {"data":{"name":"densB"},"mark":{"type":"area","interpolate":"monotone","color":"#D3CD7B","opacity":1,"line":{"color":"#2B4CA6","strokeWidth":1.5}},"encoding":{"x":{"field":"tp","type":"quantitative","scale":{"domain":[150,400],"range":[191.5,985],"nice":false,"zero":false},"axis":null},"y":{"field":"d","type":"quantitative","scale":{"domain":[0,30],"range":[497,467],"nice":false,"zero":false},"axis":null}}},
  {"data":{"values":[{}]},"mark":{"type":"rule","color":"#111111","strokeWidth":1.5},"encoding":{"x":{"datum":150,"type":"quantitative","scale":{"domain":[150,400],"range":[191.5,985],"nice":false,"zero":false},"axis":null},"x2":{"datum":400},"y":{"datum":10.017,"type":"quantitative","scale":{"domain":[-1.005,12.701],"range":[0,618],"nice":false,"zero":false},"axis":null}}},
  {"data":{"name":"tpTicksB"},"mark":{"type":"point","shape":"M0,0V1","filled":false,"color":"#111111","strokeWidth":1.2,"size":64,"opacity":1},"encoding":{"x":{"field":"t","type":"quantitative","scale":{"domain":[150,400],"range":[191.5,985],"nice":false,"zero":false},"axis":null},"y":{"datum":10.017,"type":"quantitative","scale":{"domain":[-1.005,12.701],"range":[0,618],"nice":false,"zero":false},"axis":null}}},
  {"data":{"name":"tpTicksB"},"mark":{"type":"text","fontSize":13.5,"align":"center","baseline":"middle","dy":6.5,"color":"#111111"},"encoding":{"x":{"field":"t","type":"quantitative","scale":{"domain":[150,400],"range":[191.5,985],"nice":false,"zero":false},"axis":null},"y":{"datum":10.017,"type":"quantitative","scale":{"domain":[-1.005,12.701],"range":[0,618],"nice":false,"zero":false},"axis":null},"text":{"field":"t"}}},
  {"data":{"values":[{}]},"mark":{"type":"text","text":"Total points","fontSize":16.5,"fontStyle":"italic","align":"right","baseline":"middle","dx":-5,"dy":-2,"color":"#111111"},"encoding":{"x":{"datum":150,"type":"quantitative","scale":{"domain":[150,400],"range":[191.5,985],"nice":false,"zero":false},"axis":null},"y":{"datum":10.017,"type":"quantitative","scale":{"domain":[-1.005,12.701],"range":[0,618],"nice":false,"zero":false},"axis":null}}},
  {"data":{"name":"probB"},"mark":{"type":"rule","color":"#111111","strokeWidth":1.2},"encoding":{"x":{"aggregate":"min","field":"tp","type":"quantitative","scale":{"domain":[150,400],"range":[191.5,985],"nice":false,"zero":false},"axis":null},"x2":{"aggregate":"max","field":"tp"},"y":{"field":"row","type":"quantitative","scale":{"domain":[-1.005,12.701],"range":[0,618],"nice":false,"zero":false},"axis":null}}},
  {"data":{"name":"probB"},"mark":{"type":"point","shape":"M0,0V1","filled":false,"color":"#111111","strokeWidth":1.1,"size":64,"opacity":1},"encoding":{"x":{"field":"tp","type":"quantitative","scale":{"domain":[150,400],"range":[191.5,985],"nice":false,"zero":false},"axis":null},"y":{"field":"row","type":"quantitative","scale":{"domain":[-1.005,12.701],"range":[0,618],"nice":false,"zero":false},"axis":null}}},
  {"data":{"name":"probB"},"mark":{"type":"text","fontSize":13,"align":"center","baseline":"middle","dy":8.5,"color":"#111111"},"encoding":{"x":{"field":"tp","type":"quantitative","scale":{"domain":[150,400],"range":[191.5,985],"nice":false,"zero":false},"axis":null},"y":{"field":"row","type":"quantitative","scale":{"domain":[-1.005,12.701],"range":[0,618],"nice":false,"zero":false},"axis":null},"text":{"field":"p"}}},
  {"data":{"name":"probB"},"transform":[{"aggregate":[{"op":"min","field":"tp","as":"tp0"}],"groupby":["ax","row"]},{"calculate":"'Pr( futime < ' + datum.ax + ' )'","as":"lab"}],"mark":{"type":"text","fontSize":16,"fontStyle":"italic","align":"right","baseline":"middle","dx":-6,"dy":-1,"color":"#111111"},"encoding":{"x":{"field":"tp0","type":"quantitative","scale":{"domain":[150,400],"range":[191.5,985],"nice":false,"zero":false},"axis":null},"y":{"field":"row","type":"quantitative","scale":{"domain":[-1.005,12.701],"range":[0,618],"nice":false,"zero":false},"axis":null},"text":{"field":"lab"}}},
  {"data":{"name":"ciB"},"mark":{"type":"rule","color":"#EE1111","strokeWidth":2},"encoding":{"x":{"field":"lo","type":"quantitative","scale":{"domain":[150,400],"range":[191.5,985],"nice":false,"zero":false},"axis":null},"x2":{"field":"hi"},"y":{"field":"row","type":"quantitative","scale":{"domain":[-1.005,12.701],"range":[0,618],"nice":false,"zero":false},"axis":null}}},
  {"data":{"name":"ciB"},"transform":[{"fold":["lo","hi"],"as":["k","v"]}],"mark":{"type":"point","shape":"M0,-1V1","filled":false,"color":"#EE1111","strokeWidth":2,"size":100,"opacity":1},"encoding":{"x":{"field":"v","type":"quantitative","scale":{"domain":[150,400],"range":[191.5,985],"nice":false,"zero":false},"axis":null},"y":{"field":"row","type":"quantitative","scale":{"domain":[-1.005,12.701],"range":[0,618],"nice":false,"zero":false},"axis":null}}},
  {"data":{"name":"totB"},"mark":{"type":"rule","color":"#EE1111","strokeWidth":2},"encoding":{"x":{"field":"total","type":"quantitative","scale":{"domain":[150,400],"range":[191.5,985],"nice":false,"zero":false},"axis":null},"y":{"datum":10.017,"type":"quantitative","scale":{"domain":[-1.005,12.701],"range":[0,618],"nice":false,"zero":false},"axis":null},"y2":{"datum":12.009}}},
  {"data":{"name":"totB"},"mark":{"type":"point","shape":"diamond","filled":true,"color":"#EE1111","size":80,"opacity":1},"encoding":{"x":{"field":"total","type":"quantitative","scale":{"domain":[150,400],"range":[191.5,985],"nice":false,"zero":false},"axis":null},"y":{"datum":10.017,"type":"quantitative","scale":{"domain":[-1.005,12.701],"range":[0,618],"nice":false,"zero":false},"axis":null}}},
  {"data":{"name":"totB"},"mark":{"type":"point","shape":"triangle-down","filled":true,"color":"#EE1111","size":100,"opacity":1,"yOffset":-5},"encoding":{"x":{"field":"total","type":"quantitative","scale":{"domain":[150,400],"range":[191.5,985],"nice":false,"zero":false},"axis":null},"y":{"datum":12.009,"type":"quantitative","scale":{"domain":[-1.005,12.701],"range":[0,618],"nice":false,"zero":false},"axis":null}}},
  {"data":{"name":"totB"},"mark":{"type":"text","fontSize":18,"fontStyle":"italic","color":"#EE1111","align":"center","baseline":"alphabetic","dy":-2},"encoding":{"x":{"field":"total","type":"quantitative","scale":{"domain":[150,400],"range":[191.5,985],"nice":false,"zero":false},"axis":null},"y":{"datum":10.017,"type":"quantitative","scale":{"domain":[-1.005,12.701],"range":[0,618],"nice":false,"zero":false},"axis":null},"text":{"field":"total"}}},
  {"data":{"name":"ciB"},"mark":{"type":"text","fontSize":18,"fontStyle":"italic","color":"#EE1111","align":"center","baseline":"alphabetic","dy":-1},"encoding":{"x":{"field":"lo","type":"quantitative","scale":{"domain":[150,400],"range":[191.5,985],"nice":false,"zero":false},"axis":null},"y":{"field":"row","type":"quantitative","scale":{"domain":[-1.005,12.701],"range":[0,618],"nice":false,"zero":false},"axis":null},"text":{"field":"prob"}}}
 ]
}
]
}
